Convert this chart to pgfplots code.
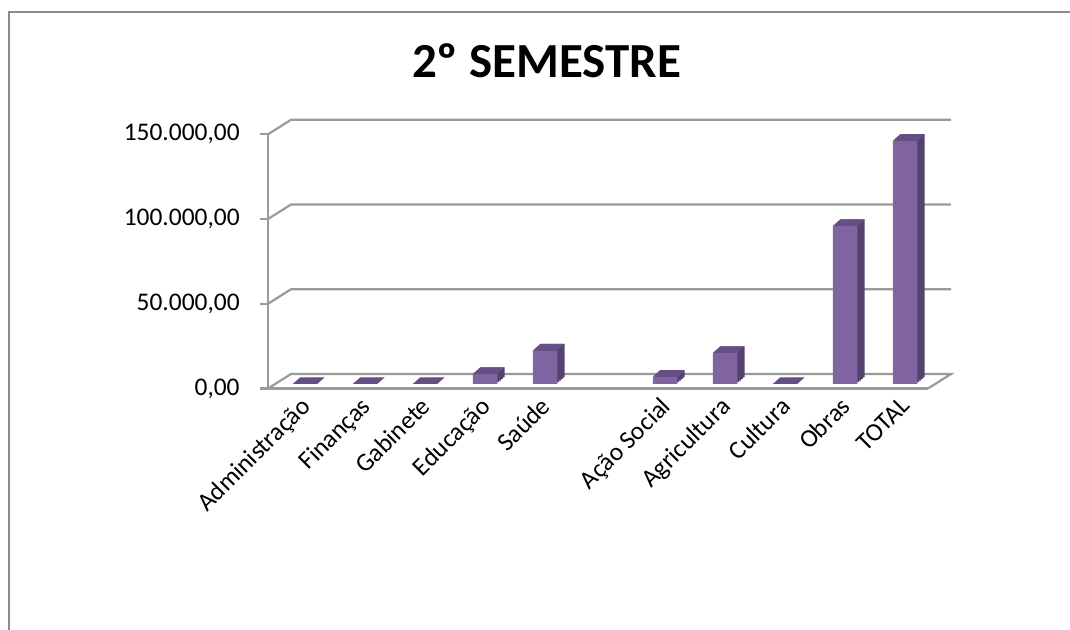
\documentclass[border=0pt]{standalone}
\usepackage{fontspec}
\setmainfont{Carlito}
\usepackage{pgfplots}
\pgfplotsset{compat=1.18}
\usepackage{pgfplotstable}
\definecolor{barfront}{HTML}{8064A2}
\definecolor{barside}{HTML}{55426F}
\definecolor{bartop}{HTML}{654F84}
\definecolor{gridgray}{HTML}{9A9A9A}
\definecolor{framegray}{HTML}{8C8C8C}
\pgfdeclareplotmark{topface}{%
 \pgfpathmoveto{\pgfqpoint{-6.1pt}{0pt}}%
 \pgfpathlineto{\pgfqpoint{6.1pt}{0pt}}%
 \pgfpathlineto{\pgfqpoint{9.8pt}{3.3pt}}%
 \pgfpathlineto{\pgfqpoint{-2.4pt}{3.3pt}}%
 \pgfpathclose\pgfusepathqfill}

\pgfplotstableread{
x y
0 0
1 0
2 0
3 5900
4 19700
6 4300
7 18300
8 0
9 93200
10 143500
}\datatable

\begin{document}
\begin{tikzpicture}
\path[use as bounding box] (0,0) rectangle (535pt,315pt);
\draw[framegray, line width=1.25pt] (4.5pt,-10pt) -- (4.5pt,309pt) -- (545pt,309pt);
\node[font=\fontsize{24.5}{29}\selectfont\bfseries, anchor=base] at (273.25pt,276pt) {2º SEMESTRE};
\begin{axis}[
 at={(134pt,120.75pt)}, anchor=south west,
 scale only axis, width=330pt, height=127.1pt,
 xmin=-0.5, xmax=10.5, ymin=0, ymax=150000,
 clip=false,
 axis lines=left, axis line style={-, draw=gridgray, line width=1.1pt},
 xtick={0,...,10},
 xticklabels={Administração,Finanças,Gabinete,Educação,Saúde,{},Ação Social,Agricultura,Cultura,Obras,TOTAL},
 x tick style={draw=none},
 extra x ticks={-0.5,0.5,...,10.5},
 extra x tick labels={},
 extra x tick style={tick style={draw=gridgray,line width=1.1pt}},
 ytick={0,50000,100000,150000},
 scaled y ticks=false,
 yticklabels={{0,00},{50.000,00},{100.000,00},{150.000,00}},
 y tick style={draw=gridgray, line width=1.1pt},
 tick align=outside, major tick length=4pt,
 ticklabel style={font=\fontsize{12.7}{15}\selectfont, text=black},
 xticklabel style={rotate=45, anchor=north east, inner sep=0pt, xshift=1pt},
 yticklabel style={anchor=east, inner sep=0pt, xshift=-10pt},
]
\draw[gridgray, line width=1.1pt] (axis cs:-0.5,0) -- ++(11.5pt,7.25pt) -- ([shift={(11.5pt,7.25pt)}]axis cs:10.5,0) -- (axis cs:10.5,0);
\draw[gridgray, line width=1.1pt] (axis cs:-0.5,50000) -- ++(11.5pt,7.25pt) -- ([shift={(11.5pt,7.25pt)}]axis cs:10.5,50000);
\draw[gridgray, line width=1.1pt] (axis cs:-0.5,100000) -- ++(11.5pt,7.25pt) -- ([shift={(11.5pt,7.25pt)}]axis cs:10.5,100000);
\draw[gridgray, line width=1.1pt] (axis cs:-0.5,150000) -- ++(11.5pt,7.25pt) -- ([shift={(11.5pt,7.25pt)}]axis cs:10.5,150000);
\addplot[ybar, bar width=12.2pt, bar shift=0pt, fill=barside, draw=none, xshift=7.25pt, yshift=5.6pt] table[x=x,y=y]{\datatable};
\addplot[ybar, bar width=12.2pt, bar shift=0pt, fill=barside, draw=none, xshift=6.33pt, yshift=4.78pt] table[x=x,y=y]{\datatable};
\addplot[ybar, bar width=12.2pt, bar shift=0pt, fill=barside, draw=none, xshift=5.4pt, yshift=3.95pt] table[x=x,y=y]{\datatable};
\addplot[ybar, bar width=12.2pt, bar shift=0pt, fill=barside, draw=none, xshift=4.48pt, yshift=3.13pt] table[x=x,y=y]{\datatable};
\addplot[ybar, bar width=12.2pt, bar shift=0pt, fill=barfront, draw=none, xshift=3.55pt, yshift=2.3pt] table[x=x,y=y]{\datatable};
\addplot[only marks, mark=topface, color=bartop, xshift=3.55pt, yshift=2.3pt] table[x=x,y=y]{\datatable};
\end{axis}
\end{tikzpicture}
\end{document}
